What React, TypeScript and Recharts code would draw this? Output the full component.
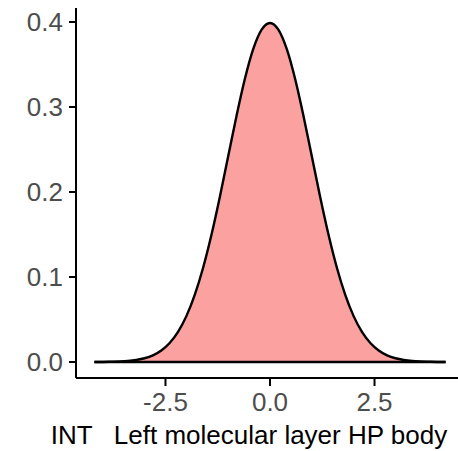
import { AreaChart, Area, XAxis, YAxis, ReferenceLine, Label } from 'recharts';

// density estimate (x, density)
const xs = [
  -4.2, -4.0, -3.8, -3.6, -3.4, -3.2, -3.0, -2.8, -2.6, -2.4, -2.2, -2.0, -1.8, -1.6, -1.4,
  -1.2, -1.0, -0.8, -0.6, -0.4, -0.2, 0.0, 0.2, 0.4, 0.6, 0.8, 1.0, 1.2, 1.4, 1.6, 1.8, 2.0,
  2.2, 2.4, 2.6, 2.8, 3.0, 3.2, 3.4, 3.6, 3.8, 4.0, 4.2,
];
const density = [
  0.0001, 0.0001, 0.0003, 0.0006, 0.0012, 0.0024, 0.0044, 0.0079, 0.0136, 0.0224, 0.0355,
  0.054, 0.079, 0.1109, 0.1497, 0.1942, 0.242, 0.2897, 0.3332, 0.3683, 0.391, 0.3989, 0.391,
  0.3683, 0.3332, 0.2897, 0.242, 0.1942, 0.1497, 0.1109, 0.079, 0.054, 0.0355, 0.0224, 0.0136,
  0.0079, 0.0044, 0.0024, 0.0012, 0.0006, 0.0003, 0.0001, 0.0001,
];
const xTicks = [-2.5, 0, 2.5];
const yTicks = [0, 0.1, 0.2, 0.3, 0.4];
const xTitle = 'INT   Left molecular layer HP body';

const data = xs.map((x, i) => ({ x, y: density[i] }));

const font = 'Arial, "Liberation Sans", sans-serif';

const XTitle = (props: any) => {
  const { viewBox } = props;
  return (
    <text
      x={249}
      y={viewBox.y + viewBox.height - 7}
      textAnchor="middle"
      fontFamily={font}
      fontSize={26}
      fill="#000"
      style={{ whiteSpace: 'pre' }}
    >
      {xTitle}
    </text>
  );
};

export default function App() {
  return (
    <div style={{ position: 'absolute', left: 0, top: 0, width: 458, height: 451, overflow: 'hidden', background: '#fff' }}>
      <AreaChart width={470} height={451} data={data} margin={{ top: 8, right: 6, bottom: 0, left: 0 }}>
        <XAxis
          dataKey="x"
          type="number"
          domain={[-4.64, 4.64]}
          ticks={xTicks}
          allowDataOverflow
          tickFormatter={(v: number) => v.toFixed(1)}
          height={73}
          tickSize={8}
          tickMargin={7}
          axisLine={{ stroke: '#000', strokeWidth: 2 }}
          tickLine={{ stroke: '#000', strokeWidth: 2 }}
          tick={{ fill: '#4d4d4d', fontSize: 26, fontFamily: font }}
        >
          <Label content={<XTitle />} />
        </XAxis>
        <YAxis
          type="number"
          domain={[-0.0188, 0.4165]}
          ticks={yTicks}
          allowDataOverflow
          tickFormatter={(v: number) => v.toFixed(1)}
          width={76}
          tickSize={7}
          tickMargin={6}
          axisLine={{ stroke: '#000', strokeWidth: 2 }}
          tickLine={{ stroke: '#000', strokeWidth: 2 }}
          tick={{ fill: '#4d4d4d', fontSize: 26, fontFamily: font }}
        />
        <Area
          type="monotone"
          dataKey="y"
          baseValue={0}
          stroke="#000"
          strokeWidth={2.4}
          fill="#fba1a0"
          fillOpacity={1}
          isAnimationActive={false}
        />
        <ReferenceLine
          segment={[{ x: xs[0], y: 0 }, { x: xs[xs.length - 1], y: 0 }]}
          stroke="#000"
          strokeWidth={2.4}
        />
      </AreaChart>
    </div>
  );
}
